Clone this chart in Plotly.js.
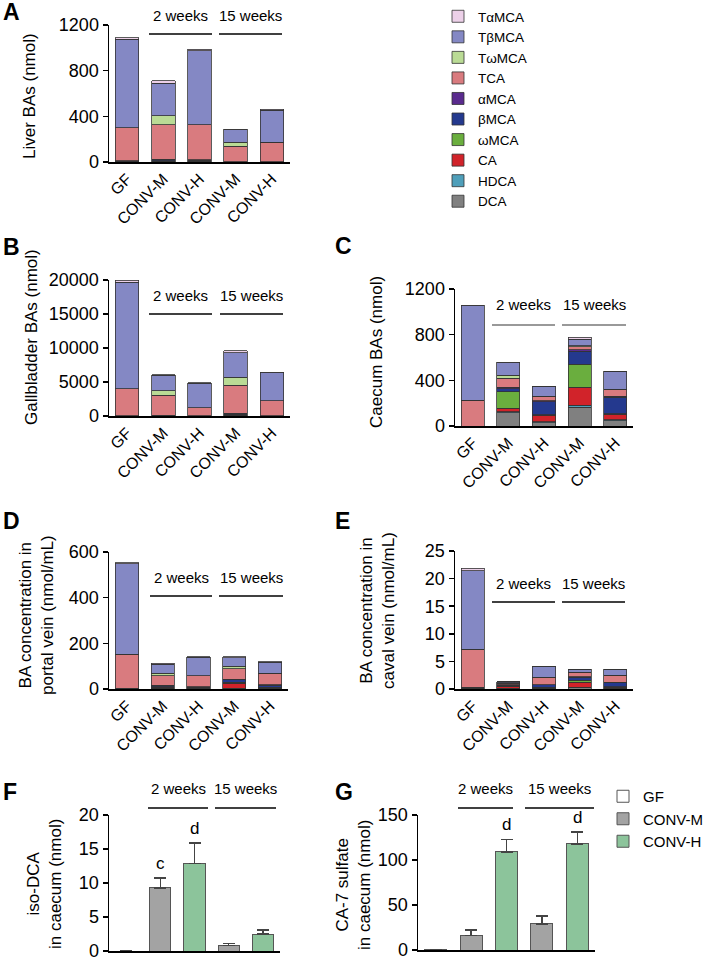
<!DOCTYPE html>
<html>
<head>
<meta charset="utf-8">
<script src="https://cdn.plot.ly/plotly-3.0.1.min.js"></script>
<style>body{margin:0;background:#fff} #fig{width:711px;height:960px}</style>
</head>
<body>
<div id="fig"></div>
<script>
// groups on the x axis (2 weeks: index 1-2, 15 weeks: index 3-4)
var groups = ['GF', 'CONV-M', 'CONV-H', 'CONV-M', 'CONV-H'];
// stacking order, bottom to top
var species = ['DCA', 'HDCA', 'CA', 'ωMCA', 'βMCA', 'αMCA', 'TCA', 'TωMCA', 'TβMCA', 'TαMCA'];

// each row = one species (same order as above), columns = groups
var liverBA = [
  [0, 4, 3, 1, 1],
  [0, 1, 1, 0, 0],
  [2, 5, 4, 1, 1],
  [0, 2, 1, 0, 0],
  [6, 8, 7, 1, 1],
  [4, 4, 4, 0, 0],
  [288, 302, 306, 136, 172],
  [0, 79, 0, 32, 0],
  [775, 283, 648, 110, 280],
  [15, 23, 15, 5, 6]
];
var gallbladderBA = [
  [0, 20, 10, 50, 10],
  [0, 0, 0, 0, 0],
  [20, 20, 10, 50, 20],
  [0, 10, 0, 20, 0],
  [20, 20, 10, 150, 20],
  [10, 10, 10, 100, 10],
  [3950, 3000, 1150, 4150, 2150],
  [0, 600, 0, 1180, 0],
  [15700, 2300, 3600, 3610, 4150],
  [300, 100, 100, 300, 60]
];
var caecumBA = [
  [0, 117, 30, 166, 45],
  [0, 10, 8, 15, 8],
  [0, 30, 58, 158, 52],
  [0, 141, 2, 204, 3],
  [0, 28, 114, 113, 144],
  [0, 12, 10, 12, 8],
  [226, 79, 35, 25, 61],
  [0, 26, 2, 8, 3],
  [826, 110, 91, 60, 155],
  [5, 5, 0, 16, 0]
];
var portalBA = [
  [0, 3, 2, 2, 2],
  [0, 1, 1, 2, 1],
  [1, 4, 2, 22, 3],
  [0, 1, 0, 3, 1],
  [1, 5, 3, 11, 10],
  [1, 2, 2, 2, 2],
  [149, 41, 47, 46, 50],
  [0, 12, 2, 11, 1],
  [396, 39, 80, 38, 48],
  [5, 4, 2, 4, 2]
];
var cavalBA = [
  [0, 0.1, 0.1, 0.2, 0.1],
  [0, 0.05, 0.05, 0.1, 0.05],
  [0.1, 0.3, 0.15, 0.9, 0.2],
  [0, 0.05, 0.05, 0.4, 0.05],
  [0.1, 0.2, 0.4, 0.5, 0.8],
  [0.1, 0.05, 0.05, 0.1, 0.05],
  [6.9, 0.3, 1.3, 0.8, 1.2],
  [0, 0.05, 0.05, 0.05, 0],
  [14.2, 0.2, 1.85, 0.5, 1.1],
  [0.5, 0, 0, 0.05, 0]
];

var isoDcaMean = [0, 9.3, 12.9, 0.8, 2.5];
var isoDcaSem = [0, 1.4, 3.0, 0.3, 0.6];
var isoDcaSig = ['', 'c', 'd', '', ''];
var ca7sMean = [0.5, 16, 109, 29, 118];
var ca7sSem = [0, 6, 14, 9, 13];
var ca7sSig = ['', '', 'd', '', 'd'];

var speciesColors = {
  'DCA': '#808080', 'HDCA': '#4f9fba', 'CA': '#d1232a', 'ωMCA': '#6aae3e',
  'βMCA': '#24398e', 'αMCA': '#5a2b8e', 'TCA': '#d97b7f', 'TωMCA': '#badb95',
  'TβMCA': '#8488c4', 'TαMCA': '#ecd0e8'
};
var groupColors = {'GF': '#ffffff', 'CONV-M': '#a3a3a3', 'CONV-H': '#8cc49b'};

var W = 711, H = 960;
var FONT = 'Liberation Sans, Arial, sans-serif';
function px(x) { return x / W; }
function py(y) { return 1 - y / H; }

// panel layout in pixels
var panels = [
  {letter: 'A', lx: 1, ly: 12, xd: [109, 290], yd: [25, 162], range: [0, 1200], ticks: [0, 400, 800, 1200],
   data: liverBA, title: 'Liver BAs (nmol)', tx: 30, ty: 96, wk: {ty: 15, ly: 34, x: [149, 212, 219, 282]}},
  {letter: 'B', lx: 1, ly: 247, xd: [109, 290], yd: [280, 416], range: [0, 20000], ticks: [0, 5000, 10000, 15000, 20000],
   data: gallbladderBA, title: 'Gallbladder BAs (nmol)', tx: 31, ty: 337, wk: {ty: 295, ly: 314, x: [149, 212, 220, 283]}},
  {letter: 'C', lx: 333, ly: 246, xd: [455, 633], yd: [289, 426], range: [0, 1200], ticks: [0, 400, 800, 1200],
   data: caecumBA, title: 'Caecum BAs (nmol)', tx: 376, ty: 352, wk: {ty: 305, ly: 325, x: [492, 555, 562, 626], color: '#777'}},
  {letter: 'D', lx: 1, ly: 521, xd: [109, 288], yd: [552, 689], range: [0, 600], ticks: [0, 200, 400, 600],
   data: portalBA, title: 'BA concentration in<br>portal vein (nmol/mL)', tx: 36, ty: 615, wk: {ty: 577, ly: 596, x: [150, 212, 219, 283]}},
  {letter: 'E', lx: 333, ly: 521, xd: [455, 633], yd: [551, 689], range: [0, 25], ticks: [0, 5, 10, 15, 20, 25],
   data: cavalBA, title: 'BA concentration in<br>caval vein (nmol/mL)', tx: 377, ty: 611, wk: {ty: 583, ly: 602, x: [492, 555, 562, 625]}},
  {letter: 'F', lx: 1, ly: 792, xd: [109, 280], yd: [815, 951], range: [0, 20], ticks: [0, 5, 10, 15, 20],
   mean: isoDcaMean, sem: isoDcaSem, sig: isoDcaSig, title: 'iso-DCA<br>in caecum (nmol)', tx: 44, ty: 884, wk: {ty: 788, ly: 808, x: [148, 208, 215, 276]}},
  {letter: 'G', lx: 333, ly: 792, xd: [418, 595], yd: [815, 950], range: [0, 150], ticks: [0, 50, 100, 150],
   mean: ca7sMean, sem: ca7sSem, sig: ca7sSig, title: 'CA-7 sulfate<br>in caecum (nmol)', tx: 353, ty: 885, wk: {ty: 788, ly: 808, x: [458, 513, 525, 594]}}
];

var traces = [];
var layout = {
  width: W, height: H,
  margin: {l: 0, r: 0, t: 0, b: 0},
  paper_bgcolor: '#fff', plot_bgcolor: 'rgba(0,0,0,0)',
  font: {family: FONT, color: '#000', size: 15},
  barmode: 'stack',
  showlegend: true,
  legend: {x: px(438), y: py(1), xanchor: 'left', yanchor: 'top', traceorder: 'reversed',
           font: {size: 13.5, family: FONT}, bgcolor: 'rgba(0,0,0,0)', tracegroupgap: 0},
  legend2: {x: px(603), y: py(780), xanchor: 'left', yanchor: 'top', traceorder: 'normal',
            font: {size: 15, family: FONT}, bgcolor: 'rgba(0,0,0,0)'},
  annotations: [],
  shapes: []
};

panels.forEach(function (p, k) {
  var n = k + 1;
  var sx = n > 1 ? String(n) : '';
  var xa = 'x' + sx, ya = 'y' + sx;
  var hasLabels = !p.mean;

  layout['xaxis' + sx] = {
    anchor: ya, domain: [px(p.xd[0]), px(p.xd[1])], range: [-0.5, 4.5],
    tickvals: groups.map(function (g, i) { return i; }),
    ticktext: hasLabels ? groups : groups.map(function () { return ''; }),
    tickangle: -45, tickfont: {size: 16}, ticklabeloverflow: 'allow',
    showline: true, linecolor: '#000', linewidth: 1.5, ticks: '',
    showgrid: false, zeroline: false, fixedrange: true
  };
  layout['yaxis' + sx] = {
    anchor: xa, domain: [py(p.yd[1]), py(p.yd[0])], range: p.range,
    tickvals: p.ticks, tickformat: 'd', tickfont: {size: 18}, ticklabeloverflow: 'allow',
    ticks: 'outside', ticklen: 5, tickwidth: 1.5, tickcolor: '#000',
    showline: true, linecolor: '#000', linewidth: 1.5,
    showgrid: false, zeroline: false, fixedrange: true
  };

  if (p.data) {
    species.forEach(function (s, j) {
      traces.push({
        type: 'bar', name: s, x: groups.map(function (g, i) { return i; }), y: p.data[j],
        xaxis: xa, yaxis: ya, width: 0.65,
        marker: {color: speciesColors[s], line: {color: '#333', width: 0.8}},
        showlegend: k === 0, legend: 'legend'
      });
    });
  } else {
    ['GF', 'CONV-M', 'CONV-H'].forEach(function (g) {
      var idx = [];
      groups.forEach(function (gg, i) { if (gg === g) idx.push(i); });
      traces.push({
        type: 'bar', name: g, x: idx,
        y: idx.map(function (i) { return p.mean[i]; }),
        xaxis: xa, yaxis: ya, width: 0.62,
        marker: {color: groupColors[g], line: {color: '#555', width: 1}},
        error_y: {type: 'data', symmetric: false,
                  array: idx.map(function (i) { return p.sem[i]; }),
                  arrayminus: idx.map(function () { return 0; }),
                  color: '#444', thickness: 1.5, width: 6},
        showlegend: p.letter === 'G', legend: 'legend2'
      });
    });
    p.sig.forEach(function (t, i) {
      if (!t) return;
      layout.annotations.push({
        xref: xa, yref: ya, x: i, y: p.mean[i] + p.sem[i], text: t, showarrow: false,
        xanchor: 'center', yanchor: 'bottom', yshift: 3, font: {size: 17}
      });
    });
  }

  // panel letter
  layout.annotations.push({
    xref: 'paper', yref: 'paper', x: px(p.lx), y: py(p.ly), text: '<b>' + p.letter + '</b>',
    showarrow: false, xanchor: 'left', yanchor: 'middle', font: {size: 23}
  });
  // y title
  layout.annotations.push({
    xref: 'paper', yref: 'paper', x: px(p.tx), y: py(p.ty), text: p.title, textangle: -90,
    showarrow: false, xanchor: 'center', yanchor: 'middle', font: {size: 17}
  });
  // time labels and bars
  var w = p.wk, lc = w.color || '#000';
  [['2 weeks', w.x[0], w.x[1]], ['15 weeks', w.x[2], w.x[3]]].forEach(function (t) {
    layout.annotations.push({
      xref: 'paper', yref: 'paper', x: px((t[1] + t[2]) / 2), y: py(w.ty), text: t[0],
      showarrow: false, xanchor: 'center', yanchor: 'middle', font: {size: 15}
    });
    layout.shapes.push({
      type: 'line', xref: 'paper', yref: 'paper', x0: px(t[1]), x1: px(t[2]), y0: py(w.ly), y1: py(w.ly),
      line: {color: lc, width: 1.5}
    });
  });
});

Plotly.newPlot('fig', traces, layout, {displayModeBar: false, staticPlot: true});
</script>
</body>
</html>
